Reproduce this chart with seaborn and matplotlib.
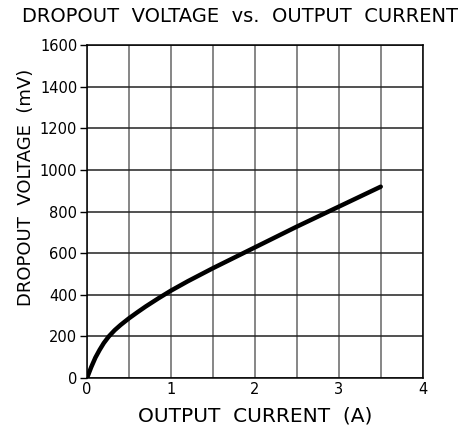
import pandas as pd
import seaborn as sns
import matplotlib.pyplot as plt

# dropout voltage curve
current_a = [0.0, 0.05, 0.1, 0.15, 0.2, 0.26, 0.33, 0.4, 0.5, 0.6, 0.7, 0.85,
             1.0, 1.2, 1.5, 2.0, 2.5, 3.0, 3.5]
dropout_mv = [0, 52, 98, 135, 168, 200, 230, 255, 287, 316, 344, 383,
              420, 465, 528, 628, 728, 824, 920]

x_grid = [0, 0.5, 1, 1.5, 2, 2.5, 3, 3.5, 4]
x_labels = ["0", "", "1", "", "2", "", "3", "", "4"]
y_ticks = [0, 200, 400, 600, 800, 1000, 1200, 1400, 1600]

df = pd.DataFrame({"current": current_a, "dropout": dropout_mv})

sns.set_style("white")
plt.rcParams["font.family"] = ["DejaVu Sans"]
plt.rcParams["text.color"] = "black"
plt.rcParams["axes.labelcolor"] = "black"
plt.rcParams["xtick.color"] = "black"
plt.rcParams["ytick.color"] = "black"

fig = plt.figure(figsize=(4.73, 4.32), dpi=100)
ax = fig.add_axes([87 / 473, 54 / 432, 335.7 / 473, 332.7 / 432])

sns.lineplot(data=df, x="current", y="dropout", color="black", linewidth=3.2, ax=ax)

ax.set_xlim(0, 4)
ax.set_ylim(0, 1600)
ax.set_xticks(x_grid)
ax.set_xticklabels(x_labels, fontsize=10.5)
ax.set_yticks(y_ticks)
ax.set_yticklabels([str(v) for v in y_ticks], fontsize=10.5)
ax.tick_params(axis="x", length=0, pad=3)
ax.tick_params(axis="y", length=5, width=1, color="black", pad=2, direction="out", left=True)

ax.grid(axis="x", color="#666666", linewidth=1.1)
ax.grid(axis="y", color="#222222", linewidth=1.1)
for s in ax.spines.values():
    s.set_color("black")
    s.set_linewidth(1.1)

ax.set_xlabel("OUTPUT  CURRENT  (A)", fontsize=14.5, labelpad=7)
ax.set_ylabel("DROPOUT  VOLTAGE  (mV)", fontsize=13)
ax.yaxis.set_label_coords(-0.155, 0.574)
fig.text(240 / 473, 1 - 17 / 432, "DROPOUT  VOLTAGE  vs.  OUTPUT  CURRENT",
         fontsize=14, ha="center", va="center")

fig.savefig("out.png", dpi=100)
